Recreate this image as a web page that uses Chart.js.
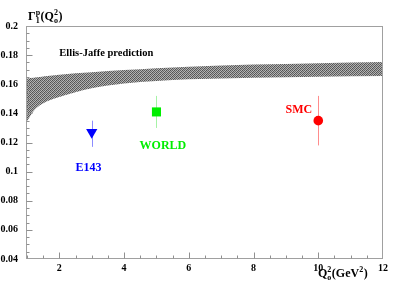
<!DOCTYPE html>
<html><head><meta charset="utf-8">
<script src="https://cdn.jsdelivr.net/npm/chart.js@4"></script>
<style>html,body{margin:0;padding:0;background:#fff}canvas{display:block}</style>
</head><body>
<canvas id="c" width="409" height="285"></canvas>
<script>
// ---- data ----
const bandX    = [1, 1.2, 1.4, 1.7, 2, 2.5, 3, 4, 5, 6, 8, 10, 12];
const bandHigh = [0.1640, 0.1645, 0.1650, 0.1658, 0.1665, 0.1675, 0.1683, 0.1697, 0.1710, 0.1720, 0.1735, 0.1745, 0.1753];
const bandLow  = [0.1345, 0.1415, 0.1455, 0.1490, 0.1513, 0.1545, 0.1572, 0.1605, 0.1623, 0.1634, 0.1645, 0.1652, 0.1657];
const expNames = ['E143', 'WORLD', 'SMC'];
const expX     = [3, 5, 10];
const expY     = [0.127, 0.141, 0.135];
const expLow   = [0.117, 0.130, 0.118];
const expHigh  = [0.135, 0.152, 0.152];
const xTickValues = [2, 4, 6, 8, 10, 12];
const xTickLabels = ['2', '4', '6', '8', '10', '12'];
const yTickValues = [0.04, 0.06, 0.08, 0.10, 0.12, 0.14, 0.16, 0.18, 0.20];
const yTickLabels = ['0.04', '0.06', '0.08', '0.1', '0.12', '0.14', '0.16', '0.18', '0.2'];
const bandLabel = 'Ellis-Jaffe prediction';

// ---- style ----
const FONT = 'Liberation Serif';
const expColors = ['#0000ff', '#00ee00', '#ff0000'];
const expBarColors = ['rgba(0,0,255,0.45)', 'rgba(0,220,0,0.35)', 'rgba(255,0,0,0.45)'];

function makePattern() {
  const c = document.createElement('canvas');
  c.width = 4; c.height = 4;
  const g = c.getContext('2d');
  const cols = [
    ['#505050', '#a8a8a8', '#606060', '#b8b8b8'],
    ['#a8a8a8', '#686868', '#b8b8b8', '#585858'],
    ['#606060', '#b8b8b8', '#505050', '#a8a8a8'],
    ['#b8b8b8', '#585858', '#a8a8a8', '#686868']
  ];
  for (let i = 0; i < 4; i++) for (let j = 0; j < 4; j++) {
    g.fillStyle = cols[j][i]; g.fillRect(i, j, 1, 1);
  }
  return g.createPattern(c, 'repeat');
}
const pattern = makePattern();

function drawRich(ctx, x, base, parts) {
  ctx.textBaseline = 'alphabetic'; ctx.textAlign = 'left';
  for (const p of parts) {
    if (p.stack) {
      ctx.font = 'bold 8px "' + FONT + '"';
      const w1 = ctx.measureText(p.sup).width, w2 = ctx.measureText(p.sub).width;
      ctx.fillText(p.sup, x, base - 5);
      ctx.fillText(p.sub, x, base + 3);
      x += Math.max(w1, w2) + 0.5;
    } else {
      ctx.font = 'bold 12px "' + FONT + '"';
      ctx.fillText(p.t, x, base);
      x += ctx.measureText(p.t).width;
    }
  }
}

const decor = {
  id: 'decor',
  beforeDatasetsDraw(chart) {
    const ctx = chart.ctx, xs = chart.scales.x, ys = chart.scales.y;
    ctx.save();
    ctx.lineWidth = 1;
    for (let i = 0; i < expX.length; i++) {
      const px = Math.round(xs.getPixelForValue(expX[i])) + 0.5;
      ctx.strokeStyle = expBarColors[i];
      ctx.beginPath();
      ctx.moveTo(px, ys.getPixelForValue(expLow[i]));
      ctx.lineTo(px, ys.getPixelForValue(expHigh[i]));
      ctx.stroke();
    }
    ctx.restore();
  },
  afterDraw(chart) {
    const ctx = chart.ctx, xs = chart.scales.x, ys = chart.scales.y, a = chart.chartArea;
    ctx.save();
    const L = Math.round(a.left) - 0.5, R = Math.round(a.right) - 0.5, T = Math.round(a.top) + 0.5, B = Math.round(a.bottom) - 0.5;
    ctx.strokeStyle = '#a0a0a0';
    ctx.lineWidth = 1;
    ctx.strokeRect(L, T, R - L, B - T);
    ctx.strokeStyle = '#909090';
    ctx.beginPath();
    for (let k = 2; k <= 24; k++) {
      const v = k / 2;
      if (v >= 12) continue;
      const px = Math.round(xs.getPixelForValue(v)) + 0.5;
      const len = (k % 4 === 0) ? 6 : 3;
      ctx.moveTo(px, B); ctx.lineTo(px, B - len);
    }
    for (let k = 9; k < 40; k++) {
      const v = k * 0.005;
      const py = Math.round(ys.getPixelForValue(v)) + 0.5;
      const len = (k % 4 === 0) ? 6 : 3;
      ctx.moveTo(L, py); ctx.lineTo(L + len, py);
    }
    ctx.stroke();

    // labels
    ctx.textBaseline = 'middle'; ctx.textAlign = 'left';
    ctx.fillStyle = '#000';
    ctx.font = 'bold 10.5px "' + FONT + '"';
    ctx.fillText(bandLabel, xs.getPixelForValue(2.0), ys.getPixelForValue(0.1815));
    ctx.font = 'bold 12px "' + FONT + '"';
    ctx.textAlign = 'center';
    const lab = [[2.9, 0.1025], [5.2, 0.118], [9.4, 0.1423]];
    for (let i = 0; i < expNames.length; i++) {
      ctx.fillStyle = expColors[i];
      ctx.fillText(expNames[i], xs.getPixelForValue(lab[i][0]), ys.getPixelForValue(lab[i][1]));
    }
    // axis titles
    ctx.fillStyle = '#000';
    drawRich(ctx, 28, 19.5, [{t: 'Γ'}, {stack: true, sup: 'p', sub: '1'}, {t: '(Q'}, {stack: true, sup: '2', sub: 'o'}, {t: ')'}]);
    drawRich(ctx, 318, 277, [{t: 'Q'}, {stack: true, sup: '2', sub: 'o'}, {t: '(GeV'}, {stack: true, sup: '2', sub: ''}, {t: ')'}]);
    ctx.restore();
  }
};

const tickFont = {family: FONT, weight: 'bold', size: 10};

new Chart(document.getElementById('c').getContext('2d'), {
  type: 'scatter',
  data: {
    datasets: [
      {type: 'line', data: bandX.map((x, i) => ({x, y: bandLow[i]})), borderWidth: 0, borderColor: 'rgba(0,0,0,0)', pointRadius: 0, fill: false, cubicInterpolationMode: 'monotone'},
      {type: 'line', data: bandX.map((x, i) => ({x, y: bandHigh[i]})), borderWidth: 0, borderColor: 'rgba(0,0,0,0)', pointRadius: 0, fill: '-1', backgroundColor: pattern, cubicInterpolationMode: 'monotone'},
      {label: expNames[0], data: [{x: expX[0], y: expY[0]}], pointStyle: 'triangle', rotation: 180, pointRadius: 6.5, backgroundColor: expColors[0], borderWidth: 0},
      {label: expNames[1], data: [{x: expX[1], y: expY[1]}], pointStyle: 'rect', pointRadius: 6.4, backgroundColor: expColors[1], borderWidth: 0},
      {label: expNames[2], data: [{x: expX[2], y: expY[2]}], pointStyle: 'circle', pointRadius: 4.8, backgroundColor: expColors[2], borderWidth: 0}
    ]
  },
  options: {
    responsive: false, animation: false, devicePixelRatio: 1, events: [],
    layout: {padding: {top: 26, right: 26, left: 0, bottom: 0}},
    plugins: {legend: {display: false}, tooltip: {enabled: false}},
    scales: {
      x: {
        type: 'linear', min: 1, max: 12,
        grid: {display: false, drawTicks: false}, border: {display: false},
        afterBuildTicks: s => { s.ticks = xTickValues.map(v => ({value: v})); },
        afterFit: s => { s.height = 26; },
        ticks: {padding: 3, font: tickFont, color: '#000', maxRotation: 0, autoSkip: false,
          callback: (v) => { const i = xTickValues.indexOf(v); return i >= 0 ? xTickLabels[i] : ''; }}
      },
      y: {
        type: 'linear', min: 0.04, max: 0.2,
        grid: {display: false, drawTicks: false}, border: {display: false},
        afterBuildTicks: s => { s.ticks = yTickValues.map(v => ({value: v})); },
        afterFit: s => { s.width = 27; },
        ticks: {padding: 9, font: tickFont, color: '#000', autoSkip: false,
          callback: (v) => { const i = yTickValues.findIndex(t => Math.abs(t - v) < 1e-9); return i >= 0 ? yTickLabels[i] : ''; }}
      }
    }
  },
  plugins: [decor]
});
</script>
</body></html>
